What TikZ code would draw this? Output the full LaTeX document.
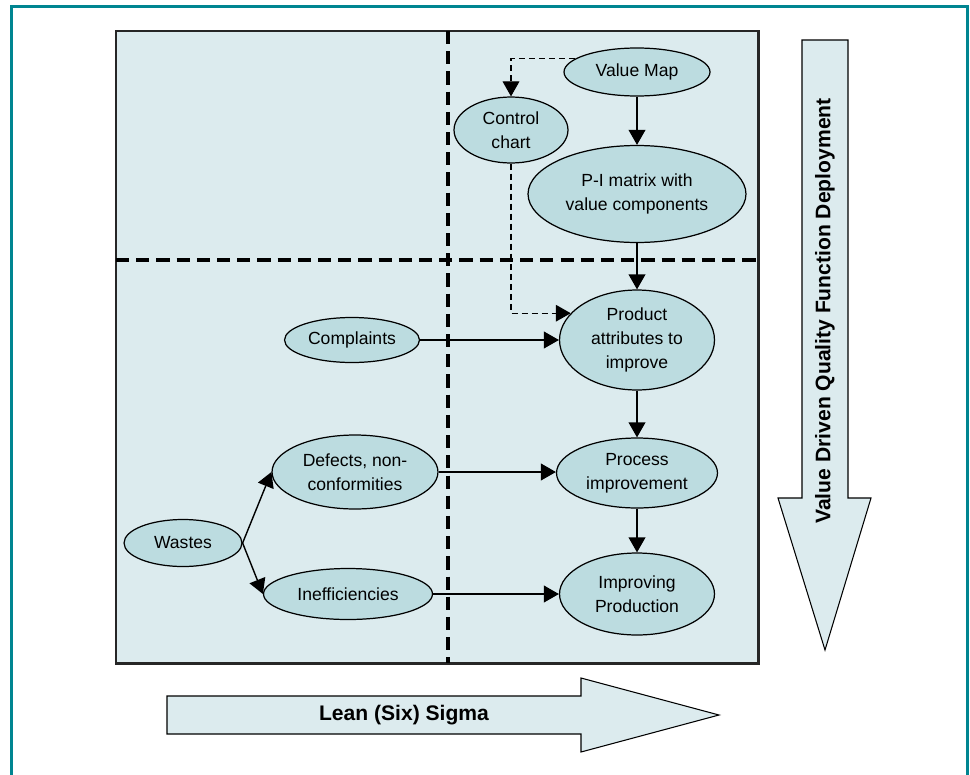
\documentclass[tikz,border=0pt]{standalone}
\usepackage{fontspec}
\setmainfont{Liberation Sans}
\usetikzlibrary{arrows.meta,shapes.geometric}

\definecolor{rahmen}{RGB}{0,133,145}
\definecolor{hellblau}{RGB}{220,235,238}
\definecolor{knotenblau}{RGB}{188,220,224}

\tikzset{
    oval/.style={ellipse, draw=black, line width=0.7pt, fill=knotenblau, inner sep=0pt,
        align=center, font=\fontsize{10}{13.6}\selectfont},
    pfeil/.style={line width=0.8pt, -{Triangle[length=8.5pt,width=9.5pt]}},
    strichpfeil/.style={pfeil, line width=0.6pt, dash pattern=on 3.5pt off 2.2pt},
    trenner/.style={line width=2.3pt, dash pattern=on 7.5pt off 4pt},
    grosspfeil/.style={draw=black, line width=0.6pt, fill=hellblau},
    titel/.style={font=\bfseries\fontsize{12}{14}\selectfont}
}

\begin{document}
\begin{tikzpicture}[x=0.02cm, y=-0.02cm]
            \useasboundingbox (0,0) rectangle (970,774);
            \draw[rahmen, line width=1.7pt] (11.5,790) -- (11.5,6.5) -- (967,6.5) -- (967,790); % Rahmen

            % Feld mit Quadranten
            \filldraw[fill=hellblau, draw=black!85, line width=1.7pt] (116,31) rectangle (758,663);
            \draw[trenner] (448,31) -- (448,663); % senkrechte Trennlinie
            \draw[trenner] (116,260) -- (758,260); % waagrechte Trennlinie

            % Knoten rechts
            \node[oval, minimum width=2.92cm, minimum height=0.96cm] (vm) at (637,72) {Value Map};
            \node[oval, minimum width=2.28cm, minimum height=1.32cm] (cc) at (511,130) {Control\\chart};
            \node[oval, minimum width=4.36cm, minimum height=1.94cm] (pim) at (637,194) {P-I matrix with\\value components};
            \node[oval, minimum width=3.10cm, minimum height=2.00cm] (pa) at (637,340) {Product\\attributes to\\improve};
            \node[oval, minimum width=3.22cm, minimum height=1.40cm] (pi) at (637,473) {Process\\improvement};
            \node[oval, minimum width=3.10cm, minimum height=1.64cm] (ip) at (637,594) {Improving\\Production};

            % Knoten links
            \node[oval, minimum width=2.70cm, minimum height=0.90cm] (cp) at (352,340) {Complaints};
            \node[oval, minimum width=3.32cm, minimum height=1.48cm] (df) at (355,472) {Defects, non-\\conformities};
            \node[oval, minimum width=2.36cm, minimum height=0.94cm] (ws) at (183,543) {Wastes};
            \node[oval, minimum width=3.38cm, minimum height=1.02cm] (ie) at (348,594) {Inefficiencies};

            % Pfeile
            \draw[pfeil] (vm) -- (pim);
            \draw[pfeil] (pim) -- (pa);
            \draw[pfeil] (pa) -- (pi);
            \draw[pfeil] (pi) -- (ip);
            \draw[pfeil] (cp) -- (pa);
            \draw[pfeil] (df) -- (df -| pi.west);
            \draw[pfeil] (ie) -- (ip);
            \draw[pfeil] (ws.east) -- (df.west);
            \draw[pfeil] (ws.east) -- (ie.west);

            % gestrichelte Pfeile
            \draw[strichpfeil] (vm.168) -| (cc.north);
            \draw[strichpfeil] (cc.south) |- (pa.158);

            % Lean (Six) Sigma
            \filldraw[grosspfeil] (167,696) -- (581,696) -- (581,678) -- (719,715) -- (581,752) -- (581,734) -- (167,734) -- cycle;
            \node[titel] (ls) at (404,715) {Lean (Six) Sigma};

            % Value Driven QFD
            \filldraw[grosspfeil] (802,40) -- (848,40) -- (848,498) -- (871,498) -- (825,650) -- (778,498) -- (802,498) -- cycle;
            \node[titel, rotate=90] (vd) at (825,311) {Value Driven Quality Function Deployment};
\end{tikzpicture}
\end{document}
